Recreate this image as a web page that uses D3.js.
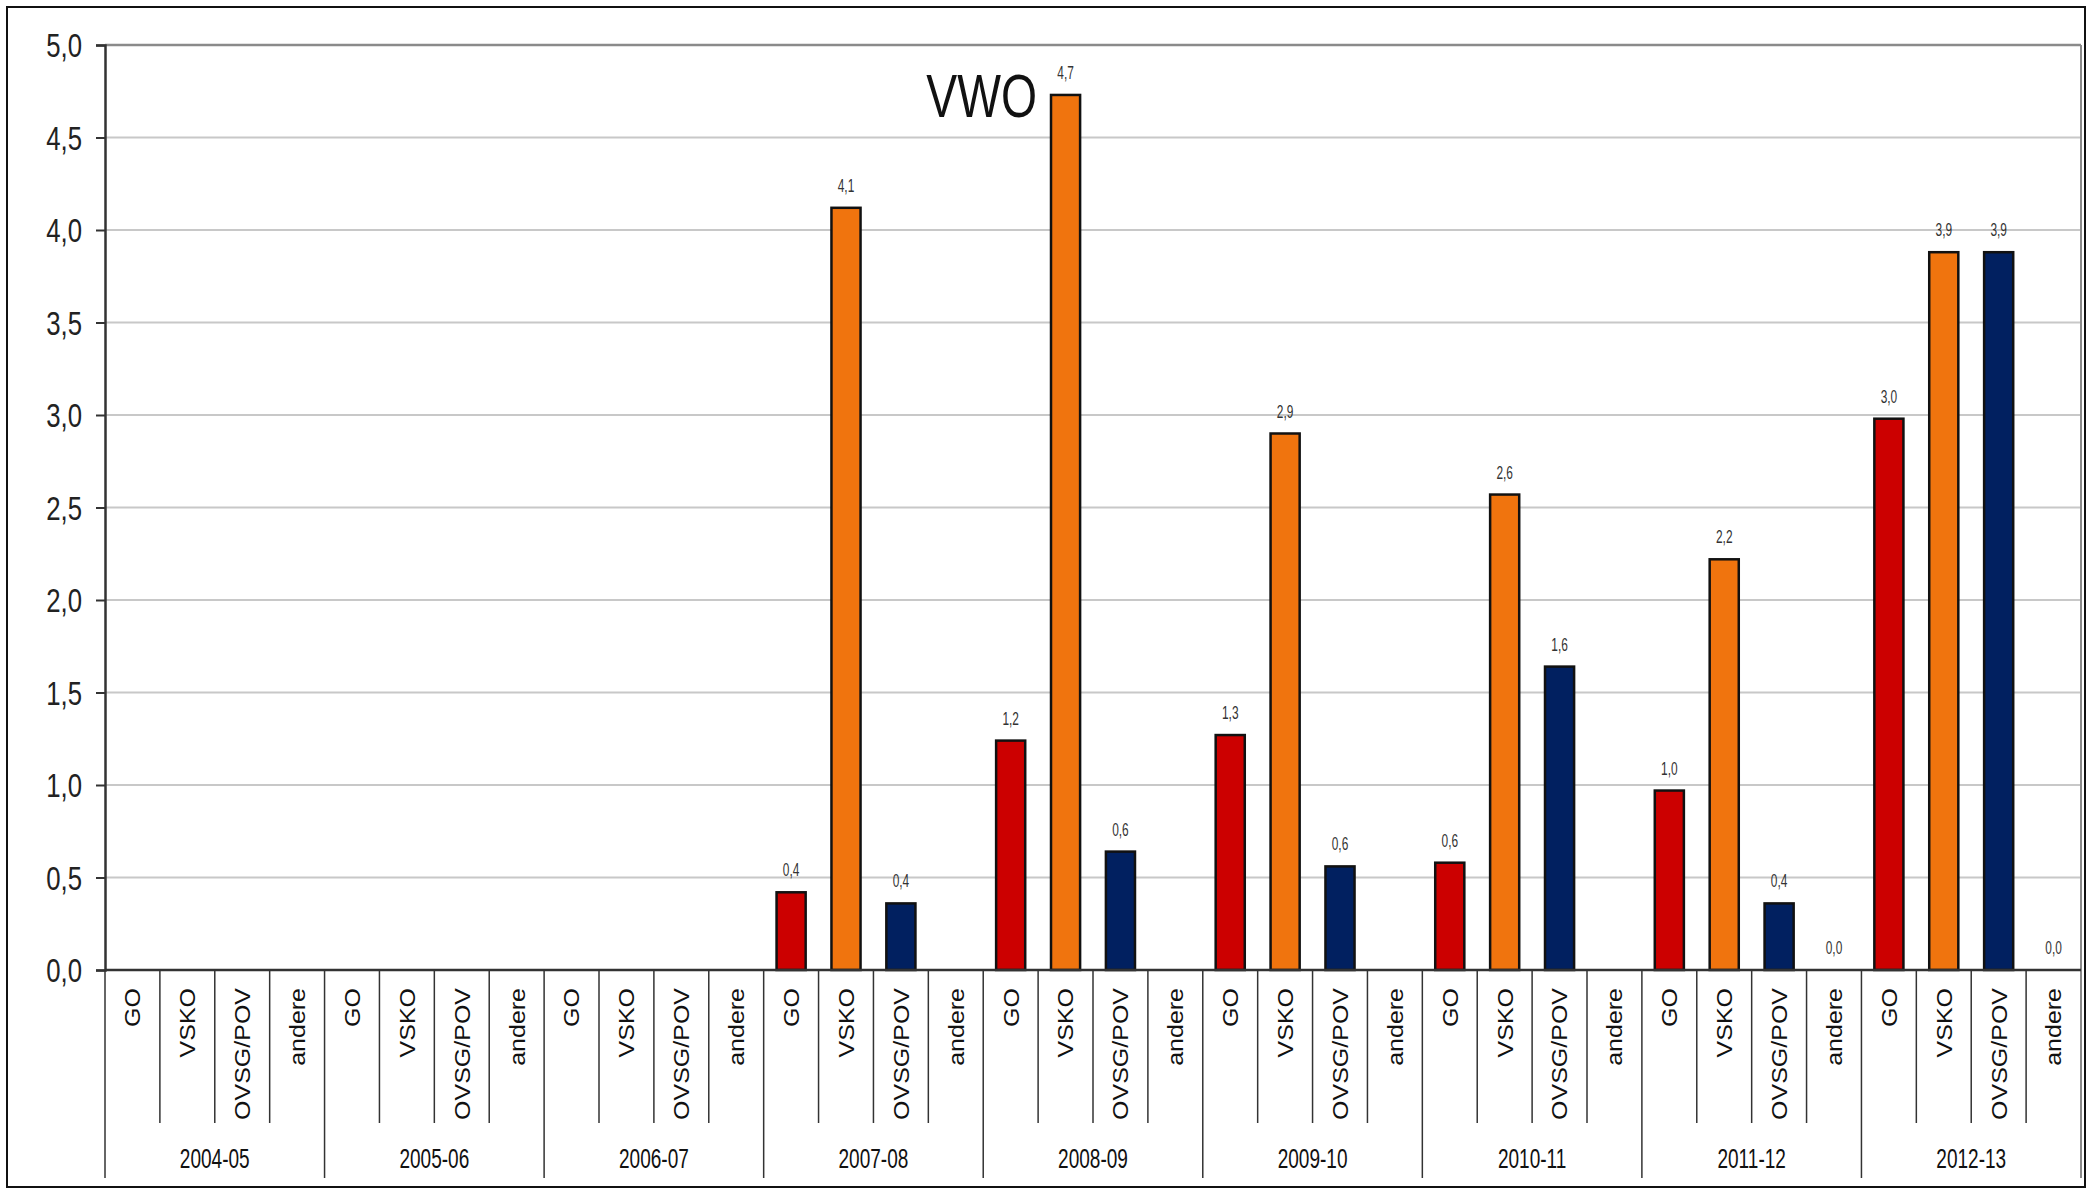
<!DOCTYPE html>
<html>
<head>
<meta charset="utf-8">
<script src="https://cdn.jsdelivr.net/npm/d3@7"></script>
<style>
  html, body { margin: 0; padding: 0; background: #fff; }
  svg { display: block; }
  text { font-family: "Liberation Sans", Arial, sans-serif; }
</style>
</head>
<body>
<script>
// ---- data ----
const years = ["2004-05","2005-06","2006-07","2007-08","2008-09","2009-10","2010-11","2011-12","2012-13"];
const subcats = ["GO","VSKO","OVSG/POV","andere"];
const valuesGO     = [null, null, null, 0.42, 1.24, 1.27, 0.58, 0.97, 2.98];
const valuesVSKO   = [null, null, null, 4.12, 4.73, 2.90, 2.57, 2.22, 3.88];
const valuesOVSG   = [null, null, null, 0.36, 0.64, 0.56, 1.64, 0.36, 3.88];
const valuesAndere = [null, null, null, null, null, null, null, 0, 0];
const yTicks = [0, 0.5, 1, 1.5, 2, 2.5, 3, 3.5, 4, 4.5, 5];
const annotation = "VWO";

const seriesColors = {"GO": "#cc0000", "VSKO": "#f0740e", "OVSG/POV": "#012060", "andere": "#7f7f7f"};

// build flat data
const seriesVals = {"GO": valuesGO, "VSKO": valuesVSKO, "OVSG/POV": valuesOVSG, "andere": valuesAndere};
const data = [];
years.forEach((yr, i) => subcats.forEach(s => data.push({year: yr, sub: s, value: seriesVals[s][i]})));

const W = 2098, H = 1189;
const mLeft = 105, mRight = 2081, mTop = 45, mBottom = 970;

const svg = d3.select("body").append("svg").attr("width", W).attr("height", H);

// outer border
svg.append("rect").attr("x", 7).attr("y", 7).attr("width", 2078).attr("height", 1180)
  .attr("fill", "none").attr("stroke", "#111").attr("stroke-width", 2);

const x0 = d3.scaleBand().domain(years).range([mLeft, mRight]).padding(0);
const x1 = d3.scaleBand().domain(subcats).range([0, x0.bandwidth()]).paddingInner(0.47).paddingOuter(0.235);
const xs = d3.scaleBand().domain(subcats).range([0, x0.bandwidth()]).padding(0);
const y = d3.scaleLinear().domain([0, 5]).range([mBottom, mTop]);

const fmt = v => d3.format(".1f")(v).replace(".", ",");

// gridlines
svg.append("g").selectAll("line").data(yTicks.filter(t => t > 0 && t < 5)).join("line")
  .attr("x1", mLeft).attr("x2", mRight).attr("y1", d => y(d)).attr("y2", d => y(d))
  .attr("stroke", "#c8c8c8").attr("stroke-width", 2);
// top line
svg.append("line").attr("x1", mLeft).attr("x2", mRight).attr("y1", y(5)).attr("y2", y(5))
  .attr("stroke", "#8a8a8a").attr("stroke-width", 2.5);
// right plot edge
svg.append("line").attr("x1", mRight).attr("x2", mRight).attr("y1", y(5)).attr("y2", 1178)
  .attr("stroke", "#8a8a8a").attr("stroke-width", 2);

// y axis
const yAxis = d3.axisLeft(y).tickValues(yTicks).tickSize(9).tickFormat(fmt);
const gy = svg.append("g").attr("transform", `translate(${mLeft},0)`).call(yAxis);
gy.select(".domain").attr("stroke", "#333").attr("stroke-width", 2.5);
gy.selectAll(".tick line").attr("stroke", "#333").attr("stroke-width", 2);
gy.selectAll(".tick text").attr("font-size", 33).attr("fill", "#222")
  .attr("x", 0).attr("dy", "0.35em")
  .attr("transform", "translate(-23,0) scale(0.78,1)")
  .style("font-family", '"Liberation Sans", Arial, sans-serif');

// bars
const bars = svg.append("g");
bars.selectAll("rect").data(data.filter(d => d.value !== null && d.value > 0)).join("rect")
  .attr("x", d => x0(d.year) + x1(d.sub))
  .attr("width", x1.bandwidth())
  .attr("y", d => y(d.value))
  .attr("height", d => y(0) - y(d.value))
  .attr("fill", d => seriesColors[d.sub])
  .attr("stroke", "#111").attr("stroke-width", 2.5);

// value labels
svg.append("g").selectAll("text").data(data.filter(d => d.value !== null)).join("text")
  .attr("transform", d => `translate(${x0(d.year) + x1(d.sub) + x1.bandwidth()/2},${y(d.value) - 16}) scale(0.68,1)`)
  .attr("text-anchor", "middle").attr("font-size", 17.5).attr("fill", "#333")
  .text(d => fmt(d.value));

// x axis baseline
svg.append("line").attr("x1", mLeft).attr("x2", mRight).attr("y1", mBottom).attr("y2", mBottom)
  .attr("stroke", "#333").attr("stroke-width", 2.5);

// category separators
const sepG = svg.append("g");
years.forEach((yr, i) => {
  subcats.forEach((s, j) => {
    const xx = x0(yr) + xs(s);
    sepG.append("line").attr("x1", xx).attr("x2", xx).attr("y1", mBottom)
      .attr("y2", j === 0 ? 1178 : 1123)
      .attr("stroke", "#333").attr("stroke-width", 1.5);
  });
});

// sub labels
const subG = svg.append("g");
years.forEach(yr => {
  subcats.forEach(s => {
    const cx = x0(yr) + xs(s) + xs.bandwidth()/2;
    subG.append("text")
      .attr("transform", `translate(${cx},988) scale(0.9,1) rotate(-90)`)
      .attr("text-anchor", "end").attr("dy", "0.35em")
      .attr("font-size", 25).attr("fill", "#111")
      .text(s);
  });
});

// year labels
svg.append("g").selectAll("text").data(years).join("text")
  .attr("transform", d => `translate(${x0(d) + x0.bandwidth()/2},1168) scale(0.68,1)`)
  .attr("text-anchor", "middle").attr("font-size", 28).attr("fill", "#111")
  .text(d => d);

// annotation
svg.append("text")
  .attr("transform", `translate(1037,117) scale(0.76,1)`)
  .attr("text-anchor", "end").attr("font-size", 61).attr("fill", "#111")
  .text(annotation);
</script>
</body>
</html>
